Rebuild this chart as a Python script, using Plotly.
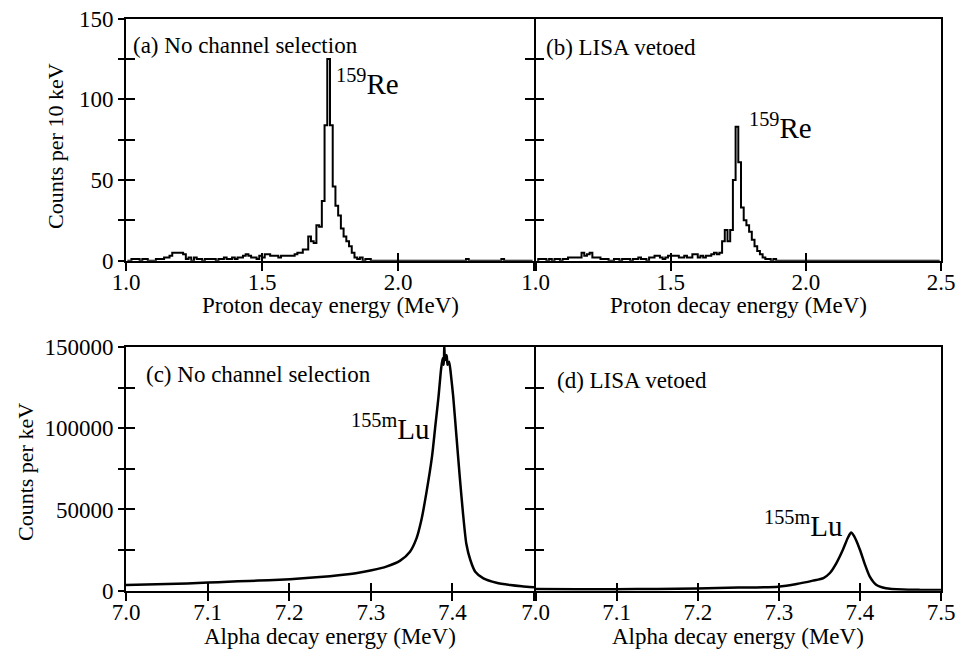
import plotly.graph_objects as go

W, H = 958, 655

# ---------------- data ----------------
# Proton spectra: counts per 10 keV, bins starting at 1.00 MeV
proton_bin_start = 1.0
proton_bin_width = 0.01

counts_a = [
    0, 0, 1, 1, 1, 0, 1, 1, 0, 0,
    0, 1, 1, 1, 2, 2, 3, 5, 5, 5,
    5, 4, 1, 2, 0, 2, 1, 1, 0, 1,
    1, 1, 1, 0, 1, 1, 2, 1, 1, 2,
    1, 2, 2, 3, 4, 3, 2, 2, 1, 3,
    2, 4, 4, 3, 3, 3, 2, 3, 3, 3,
    3, 3, 4, 5, 5, 7, 7, 15, 12, 11,
    22, 21, 37, 84, 125, 84, 46, 34, 28, 20,
    15, 12, 9, 5, 2, 1, 2, 0, 1, 1,
    0, 0, 0, 0, 0, 0, 0, 0, 0, 0,
    0, 0, 0, 0, 0, 0, 0, 0, 0, 0,
    0, 0, 0, 0, 0, 0, 0, 0, 0, 0,
    0, 0, 0, 0, 0, 1, 0, 0, 0, 0,
    0, 0, 0, 0, 0, 0, 0, 0, 1, 0,
    0, 0, 0, 0, 0, 0, 0, 0, 0, 0,
]

counts_b = [
    0, 1, 1, 1, 0, 1, 0, 1, 1, 0,
    1, 1, 2, 2, 2, 2, 2, 5, 3, 4,
    5, 2, 2, 2, 1, 1, 1, 0, 0, 1,
    1, 0, 1, 1, 1, 0, 1, 1, 2, 1,
    1, 0, 2, 2, 3, 3, 2, 1, 2, 3,
    3, 3, 3, 2, 2, 3, 2, 2, 4, 4,
    2, 3, 2, 3, 3, 4, 5, 4, 5, 12,
    19, 12, 19, 50, 83, 61, 33, 25, 22, 18,
    13, 9, 6, 4, 2, 1, 1, 0, 1, 0,
    0, 0, 0, 0, 0, 0, 0, 0, 0, 0,
    0, 0, 0, 0, 0, 0, 0, 0, 0, 0,
    0, 0, 0, 0, 0, 0, 0, 0, 0, 0,
    0, 0, 0, 0, 0, 0, 0, 0, 0, 0,
    0, 0, 0, 0, 0, 0, 0, 0, 0, 0,
    0, 0, 0, 0, 0, 0, 0, 0, 0, 0,
]

# Alpha spectra: counts per keV
alpha_energy_c = [7.000, 7.025, 7.050, 7.075, 7.101, 7.125, 7.150, 7.175, 7.201, 7.225,
                  7.250, 7.266, 7.285, 7.301, 7.319, 7.336, 7.348, 7.356, 7.362, 7.368,
                  7.375, 7.379, 7.383, 7.386, 7.388, 7.3895, 7.390, 7.391, 7.393, 7.394,
                  7.396, 7.398, 7.401, 7.405, 7.409, 7.413, 7.417, 7.422, 7.428, 7.438,
                  7.454, 7.471, 7.485, 7.500]
alpha_counts_c = [3500, 3800, 4100, 4500, 5000, 5500, 6000, 6500, 7100, 7900,
                  8900, 9800, 11100, 12600, 14800, 18500, 24000, 32200, 43500, 59900,
                  82500, 101000, 119400, 135800, 143000, 139000, 151000, 142000, 145000, 139000,
                  141000, 133800, 119400, 94800, 70200, 47600, 29100, 18900, 11700, 7600,
                  4900, 3500, 2700, 2100]

alpha_energy_d = [7.000, 7.050, 7.099, 7.150, 7.199, 7.250, 7.299, 7.322, 7.342, 7.355,
                  7.363, 7.371, 7.379, 7.385, 7.389, 7.393, 7.400, 7.406, 7.412, 7.420,
                  7.432, 7.453, 7.475, 7.500]
alpha_counts_d = [1000, 900, 900, 1100, 1400, 1900, 2500, 4100, 6200, 7800,
                  10900, 17000, 25200, 32400, 35800, 33400, 25200, 16400, 8800, 3700,
                  1500, 700, 500, 400]

proton_ticks = [1.0, 1.5, 2.0, 2.5]
proton_ticktext_left = ["1.0", "1.5", "2.0", ""]
proton_ticktext_right = ["1.0", "1.5", "2.0", "2.5"]
alpha_ticks = [7.0, 7.1, 7.2, 7.3, 7.4, 7.5]
alpha_ticktext_left = ["7.0", "7.1", "7.2", "7.3", "7.4", ""]
alpha_ticktext_right = ["7.0", "7.1", "7.2", "7.3", "7.4", "7.5"]
proton_yticks = [0, 25, 50, 75, 100, 125, 150]
proton_yticktext = ["0", "", "50", "", "100", "", "150"]
alpha_yticks = [0, 25000, 50000, 75000, 100000, 125000, 150000]
alpha_yticktext = ["0", "", "50000", "", "100000", "", "150000"]

panel_labels = ["(a) No channel selection", "(b) LISA vetoed",
                "(c) No channel selection", "(d) LISA vetoed"]
isotope_labels = ["<sup>159</sup>Re", "<sup>159</sup>Re",
                  "<sup>155m</sup>Lu", "<sup>155m</sup>Lu"]

# ---------------- figure ----------------
FONT = "Liberation Serif, Times New Roman, serif"
BLACK = "#000000"
LW = 1.6
TW = 1.5


def px(x):
    return x / W


def py(y):
    return 1 - y / H


XL = [126, 534]
XR = [534 + LW, 941]
YT = [18.7, 260.7]
YB = [347, 590.7]

proton_centers = [proton_bin_start + proton_bin_width * (i + 0.5) for i in range(len(counts_a))]

fig = go.Figure()
line_hist = dict(color=BLACK, width=2, shape="hvh")
fig.add_trace(go.Scatter(x=proton_centers, y=counts_a, mode="lines", line=line_hist,
                         xaxis="x", yaxis="y", showlegend=False, hoverinfo="skip"))
fig.add_trace(go.Scatter(x=proton_centers, y=counts_b, mode="lines", line=line_hist,
                         xaxis="x2", yaxis="y2", showlegend=False, hoverinfo="skip"))
fig.add_trace(go.Scatter(x=alpha_energy_c, y=alpha_counts_c, mode="lines",
                         line=dict(color=BLACK, width=2.5, shape="spline", smoothing=0.6),
                         xaxis="x3", yaxis="y3", showlegend=False, hoverinfo="skip"))
fig.add_trace(go.Scatter(x=alpha_energy_d, y=alpha_counts_d, mode="lines",
                         line=dict(color=BLACK, width=2.5, shape="spline", smoothing=0.6),
                         xaxis="x4", yaxis="y4", showlegend=False, hoverinfo="skip"))

# empty traces so that the overlay axes (cross-tick halves) get drawn
for xa, ya in [("x5", "y"), ("x6", "y2"), ("x7", "y3"), ("x8", "y4"),
               ("x", "y5"), ("x3", "y6")]:
    fig.add_trace(go.Scatter(x=[None], y=[None], mode="lines", xaxis=xa, yaxis=ya,
                             showlegend=False, hoverinfo="skip"))

tickfont = dict(family=FONT, size=23, color=BLACK)


def xaxis_main(dom, rng, tv, tt, anchor):
    return dict(domain=[px(dom[0]), px(dom[1])], range=rng, anchor=anchor,
                tickmode="array", tickvals=tv, ticktext=tt,
                ticks="outside", ticklen=8, tickwidth=TW, tickcolor=BLACK,
                ticklabelstandoff=-8,
                showline=True, linecolor=BLACK, linewidth=LW, mirror=True,
                showgrid=False, zeroline=False, tickfont=tickfont,
                automargin=False, fixedrange=True)


def xaxis_over(over, rng, tv, anchor):
    return dict(overlaying=over, range=rng, anchor=anchor, side="bottom",
                tickmode="array", tickvals=tv, ticktext=[""] * len(tv),
                ticks="inside", ticklen=8, tickwidth=TW, tickcolor=BLACK,
                showline=False, showgrid=False, zeroline=False, showticklabels=False,
                automargin=False, fixedrange=True)


def yaxis_main(dom, rng, tv, anchor, mirror):
    return dict(domain=[py(dom[1]), py(dom[0])], range=rng, anchor=anchor,
                tickmode="array", tickvals=tv, ticktext=[""] * len(tv),
                ticks="inside", ticklen=9, tickwidth=TW, tickcolor=BLACK,
                showline=True, linecolor=BLACK, linewidth=LW, mirror=mirror,
                showgrid=False, zeroline=False, showticklabels=False,
                automargin=False, fixedrange=True)


def yaxis_over(over, rng, tv, tt, anchor):
    return dict(overlaying=over, range=rng, anchor=anchor, side="left",
                tickmode="array", tickvals=tv, ticktext=tt,
                ticks="outside", ticklen=7, tickwidth=TW, tickcolor=BLACK,
                ticklabelstandoff=0,
                showline=False, showgrid=False, zeroline=False, showticklabels=True,
                tickfont=tickfont, automargin=False, fixedrange=True)


prange = [1.0, 2.5]
arange = [7.0, 7.5]
yprange = [0, 150]
yarange = [0, 150000]

fig.update_layout(
    width=W, height=H, margin=dict(l=0, r=0, t=0, b=0),
    paper_bgcolor="white", plot_bgcolor="white", template="none",
    showlegend=False,
    font=dict(family=FONT, size=23, color=BLACK),
    xaxis=xaxis_main(XL, prange, proton_ticks, proton_ticktext_left, "y"),
    xaxis2=xaxis_main(XR, prange, proton_ticks, proton_ticktext_right, "y2"),
    xaxis3=xaxis_main(XL, arange, alpha_ticks, alpha_ticktext_left, "y3"),
    xaxis4=xaxis_main(XR, arange, alpha_ticks, alpha_ticktext_right, "y4"),
    xaxis5=xaxis_over("x", prange, proton_ticks, "y"),
    xaxis6=xaxis_over("x2", prange, proton_ticks, "y2"),
    xaxis7=xaxis_over("x3", arange, alpha_ticks, "y3"),
    xaxis8=xaxis_over("x4", arange, alpha_ticks, "y4"),
    yaxis=yaxis_main(YT, yprange, proton_yticks, "x", "ticks"),
    yaxis2=yaxis_main(YT, yprange, proton_yticks, "x2", True),
    yaxis3=yaxis_main(YB, yarange, alpha_yticks, "x3", "ticks"),
    yaxis4=yaxis_main(YB, yarange, alpha_yticks, "x4", True),
    yaxis5=yaxis_over("y", yprange, proton_yticks, proton_yticktext, "x"),
    yaxis6=yaxis_over("y3", yarange, alpha_yticks, alpha_yticktext, "x3"),
)

annotations = []


def ann(text, x, y, size=23, angle=0, xanchor="center", yanchor="middle"):
    annotations.append(dict(text=text, x=px(x), y=py(y), xref="paper", yref="paper",
                            showarrow=False, textangle=angle, xanchor=xanchor, yanchor=yanchor,
                            font=dict(family=FONT, size=size, color=BLACK)))


# axis titles
ann("Proton decay energy (MeV)", (XL[0] + XL[1]) / 2, 305)
ann("Proton decay energy (MeV)", (XR[0] + XR[1]) / 2, 305)
ann("Alpha decay energy (MeV)", (XL[0] + XL[1]) / 2, 636)
ann("Alpha decay energy (MeV)", (XR[0] + XR[1]) / 2, 636)
ann("Counts per 10 keV", 55, 146, size=22, angle=-90)
ann("Counts per keV", 25, 472, size=22, angle=-90)

# panel labels
ann(panel_labels[0], 131, 46, xanchor="left")
ann(panel_labels[1], 544, 48, xanchor="left")
ann(panel_labels[2], 144, 375, xanchor="left")
ann(panel_labels[3], 555, 380, xanchor="left")

# isotope labels
ann(isotope_labels[0], 334, 82, size=29, xanchor="left")
ann(isotope_labels[1], 747, 126, size=29, xanchor="left")
ann(isotope_labels[2], 349, 427, size=29, xanchor="left")
ann(isotope_labels[3], 762, 524, size=29, xanchor="left")

fig.update_layout(annotations=annotations)

fig.write_html("out.html")
